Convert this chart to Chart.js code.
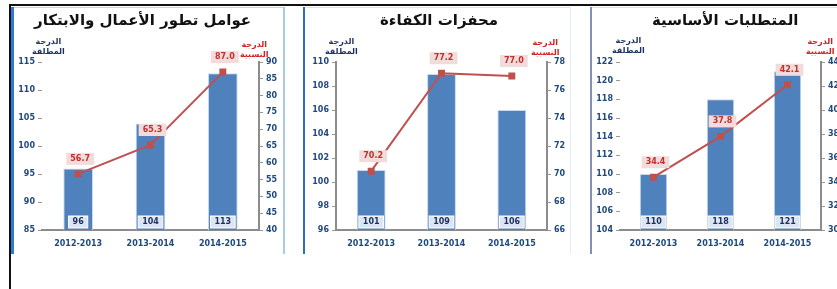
<!DOCTYPE html>
<html>
<head>
<meta charset="utf-8">
<script src="https://cdn.jsdelivr.net/npm/chart.js@4.4.1/dist/chart.umd.min.js"></script>
<style>
  body { margin: 0; background: #fff; font-family: "DejaVu Sans", sans-serif; }
  #page { position: relative; width: 837px; height: 289px; overflow: hidden; }
  .line { position: absolute; }
  .panel { position: absolute; top: 9px; height: 244px; }
  .panel canvas { position: absolute; left: 0; top: 0; }
  .title { position: absolute; top: 11px; font-weight: bold; font-size: 15px; color: #111; white-space: nowrap; direction: rtl; }
  .cap { position: absolute; font-size: 8px; font-weight: bold; line-height: 10px; text-align: center; direction: rtl; white-space: nowrap; }
  .cap.abs { color: #1F2F5F; }
  .cap.rel { color: #D02020; }
</style>
</head>
<body>
<div id="page">
  <div class="line" style="left:9px;top:4px;width:828px;height:2px;background:#111"></div>
  <div class="line" style="left:9px;top:4px;width:2px;height:285px;background:#111"></div>

  <div class="line" style="left:11px;top:7px;width:3px;height:247px;background:#2C7BD8"></div>
  <div class="line" style="left:14px;top:7px;width:270px;height:1px;background:#BDD7EE"></div>
  <div class="line" style="left:283px;top:7px;width:2px;height:247px;background:#A9CBEA"></div>

  <div class="line" style="left:303px;top:7px;width:2px;height:247px;background:#2F6DBE"></div>
  <div class="line" style="left:305px;top:7px;width:265px;height:1px;background:#D6E4F2"></div>
  <div class="line" style="left:570px;top:7px;width:1px;height:247px;background:#E4EEF8"></div>

  <div class="line" style="left:590px;top:7px;width:2px;height:247px;background:#8290B8"></div>
  <div class="line" style="left:592px;top:7px;width:245px;height:1px;background:#D6E0EE"></div>

  <div class="panel" style="left:14px;width:269px"><canvas id="c1" width="269" height="244"></canvas></div>
  <div class="panel" style="left:306px;width:264px"><canvas id="c2" width="264" height="244"></canvas></div>
  <div class="panel" style="left:593px;width:244px"><canvas id="c3" width="244" height="244"></canvas></div>

  <div class="title" style="left:34px">عوامل تطور الأعمال والابتكار</div>
  <div class="title" style="left:380px">محفزات الكفاءة</div>
  <div class="title" style="left:652px">المتطلبات الأساسية</div>

  <div class="cap abs" style="left:32px;top:37px">الدرجة<br>المطلقة</div>
  <div class="cap rel" style="left:240px;top:40px">الدرجة<br>النسبية</div>
  <div class="cap abs" style="left:325px;top:37px">الدرجة<br>المطلقة</div>
  <div class="cap rel" style="left:531px;top:38px">الدرجة<br>النسبية</div>
  <div class="cap abs" style="left:612px;top:36px">الدرجة<br>المطلقة</div>
  <div class="cap rel" style="left:806px;top:37px">الدرجة<br>النسبية</div>
</div>

<script>
const years = ['2012-2013', '2013-2014', '2014-2015'];

// عوامل تطور الأعمال والابتكار
const innovAbs = [96, 104, 113];
const innovRel = [56.7, 65.3, 87.0];
const innovLeftTicks = [85, 90, 95, 100, 105, 110, 115];
const innovRightTicks = [40, 45, 50, 55, 60, 65, 70, 75, 80, 85, 90];

// محفزات الكفاءة
const effAbs = [101, 109, 106];
const effRel = [70.2, 77.2, 77.0];
const effLeftTicks = [96, 98, 100, 102, 104, 106, 108, 110];
const effRightTicks = [66, 68, 70, 72, 74, 76, 78];

// المتطلبات الأساسية
const basicAbs = [110, 118, 121];
const basicRel = [34.4, 37.8, 42.1];
const basicLeftTicks = [104, 106, 108, 110, 112, 114, 116, 118, 120, 122];
const basicRightTicks = [30, 32, 34, 36, 38, 40, 42, 44];

const tickColor = '#1F497D';
const tickFont = { family: 'DejaVu Sans', size: 8, weight: 'bold' };

// boxes with the values, drawn on top of bars and points
const valueBoxes = {
    id: 'valueBoxes',
    afterDatasetsDraw(chart) {
        const ctx = chart.ctx;
        ctx.save();
        ctx.font = 'bold 8px "DejaVu Sans"';
        ctx.textAlign = 'center';
        ctx.textBaseline = 'middle';
        chart.data.datasets.forEach((ds, i) => {
            const meta = chart.getDatasetMeta(i);
            meta.data.forEach((el, j) => {
                const v = ds.data[j];
                let txt, x, y, bg, fg;
                if (ds.type === 'bar') {
                    txt = String(v);
                    x = el.x;
                    y = chart.chartArea.bottom - 8;
                    bg = '#DCE6F2';
                    fg = '#1F2F5F';
                } else {
                    txt = v.toFixed(1);
                    x = el.x + 2;
                    y = el.y - 15;
                    bg = '#F2DCDB';
                    fg = '#C0302D';
                }
                const w = ctx.measureText(txt).width + 8;
                ctx.fillStyle = bg;
                ctx.fillRect(x - w / 2, y - 6, w, 12);
                if (ds.type === 'bar') {
                    ctx.strokeStyle = '#fff';
                    ctx.lineWidth = 1;
                    ctx.strokeRect(x - w / 2, y - 6, w, 12);
                }
                ctx.fillStyle = fg;
                ctx.fillText(txt, x, y);
            });
        });
        ctx.restore();
    }
};

function makeChart(id, absData, relData, leftTicks, rightTicks, opt) {
    const yAxis = (ticks, pos, width, line) => ({
        type: 'linear',
        position: pos,
        min: ticks[0],
        max: ticks[ticks.length - 1],
        afterBuildTicks: s => { s.ticks = ticks.map(v => ({ value: v })); },
        afterFit: s => { s.width = width; },
        grid: { drawOnChartArea: false, drawTicks: true, tickLength: 4, color: '#999' },
        border: { display: line, color: '#8C8C8C', width: 2 },
        ticks: { color: tickColor, font: tickFont, padding: 3 }
    });
    return new Chart(document.getElementById(id), {
        data: {
            labels: years,
            datasets: [{
                type: 'line',
                data: relData,
                yAxisID: 'yR',
                borderColor: '#C0504D',
                borderWidth: 2,
                pointStyle: 'rect',
                pointRadius: 3.5,
                pointBackgroundColor: '#C0504D',
                pointBorderColor: '#C0504D',
                order: 0
            }, {
                type: 'bar',
                data: absData,
                yAxisID: 'yL',
                backgroundColor: '#4F81BD',
                borderColor: '#C6D9F0',
                borderWidth: { left: 1, right: 1, top: 1, bottom: 0 },
                barPercentage: 0.82,
                categoryPercentage: 0.5,
                order: 1
            }]
        },
        options: {
            responsive: false,
            animation: false,
            layout: { padding: { top: 53, left: 0, right: 0, bottom: 0 } },
            plugins: { legend: { display: false }, tooltip: { enabled: false } },
            scales: {
                x: {
                    afterFit: s => { s.height = 23; },
                    grid: { display: false },
                    border: { display: true, color: '#8C8C8C', width: 2 },
                    ticks: { color: tickColor, font: tickFont, padding: 1, maxRotation: 0 }
                },
                yL: yAxis(leftTicks, 'left', opt.left, opt.leftLine),
                yR: yAxis(rightTicks, 'right', opt.right, true)
            }
        },
        plugins: [valueBoxes]
    });
}

makeChart('c1', innovAbs, innovRel, innovLeftTicks, innovRightTicks, { left: 28, right: 24, leftLine: false });
makeChart('c2', effAbs, effRel, effLeftTicks, effRightTicks, { left: 30, right: 23, leftLine: true });
makeChart('c3', basicAbs, basicRel, basicLeftTicks, basicRightTicks, { left: 27, right: 16, leftLine: false });
</script>
</body>
</html>
